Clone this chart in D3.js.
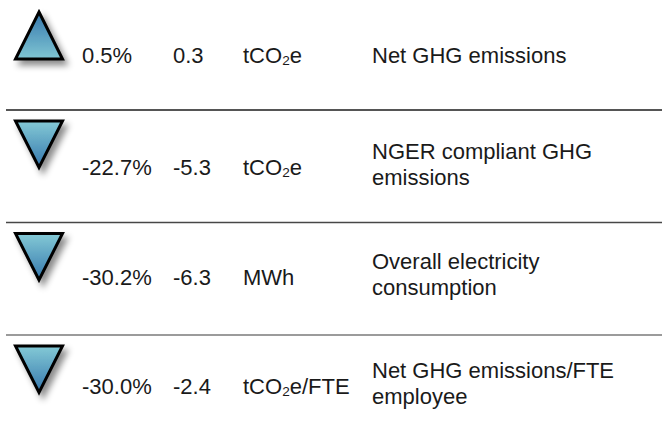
<!DOCTYPE html>
<html>
<head>
<meta charset="utf-8">
<script src="https://cdn.jsdelivr.net/npm/d3@7"></script>
<style>
  html, body { margin: 0; padding: 0; background: #fff; }
  text { font-family: "Liberation Sans", Arial, Helvetica, sans-serif; fill: #1a1a1a; }
</style>
</head>
<body>
<div id="chart"></div>
<script>
// indicator rows
const directions = ["up", "down", "down", "down"];
const pctChanges = ["0.5%", "-22.7%", "-30.2%", "-30.0%"];
const absChanges = ["0.3", "-5.3", "-6.3", "-2.4"];
const units = [["tCO", "2", "e"], ["tCO", "2", "e"], ["MWh", "", ""], ["tCO", "2", "e/FTE"]];
const labels = [
  ["Net GHG emissions"],
  ["NGER compliant GHG", "emissions"],
  ["Overall electricity", "consumption"],
  ["Net GHG emissions/FTE", "employee"]
];
const dividerColors = ["#1c1c1c", "#474747", "#7a7a7a"];

const W = 664, H = 441;
const svg = d3.select("#chart").append("svg")
  .attr("width", W).attr("height", H);

const defs = svg.append("defs");
// gradients for the arrows
const gUp = defs.append("linearGradient").attr("id", "gUp")
  .attr("x1", 0).attr("y1", 0).attr("x2", 0).attr("y2", 1);
gUp.append("stop").attr("offset", "0%").attr("stop-color", "#3577ad");
gUp.append("stop").attr("offset", "100%").attr("stop-color", "#80c6d3");
const gDown = defs.append("linearGradient").attr("id", "gDown")
  .attr("x1", 0).attr("y1", 0).attr("x2", 0).attr("y2", 1);
gDown.append("stop").attr("offset", "0%").attr("stop-color", "#84cad6");
gDown.append("stop").attr("offset", "100%").attr("stop-color", "#3577ad");

const shadow = defs.append("filter").attr("id", "shadow")
  .attr("x", "-30%").attr("y", "-30%").attr("width", "170%").attr("height", "170%");
shadow.append("feDropShadow")
  .attr("dx", 4).attr("dy", 5).attr("stdDeviation", 3)
  .attr("flood-color", "#000").attr("flood-opacity", 0.45);

// row bands
const y = d3.scaleBand()
  .domain(d3.range(directions.length))
  .range([-2.5, 447.5]);

// columns
const x = d3.scaleOrdinal()
  .domain(["arrow", "pct", "abs", "unit", "label"])
  .range([39, 82, 173, 243, 372]);

const rows = svg.selectAll("g.row")
  .data(directions.map((d, i) => ({ dir: d, i })))
  .join("g")
  .attr("class", "row")
  .attr("transform", d => `translate(0,${y(d.i)})`);

// arrows
const half = 23.5;
rows.append("path")
  .attr("d", d => {
    const cx = x("arrow");
    if (d.dir === "up") {
      const top = 14.5, bot = 61.5;
      return `M${cx},${top}L${cx + half},${bot}L${cx - half},${bot}Z`;
    }
    const top = 11, bot = 57.5;
    return `M${cx - half},${top}L${cx + half},${top}L${cx},${bot}Z`;
  })
  .attr("fill", d => d.dir === "up" ? "url(#gUp)" : "url(#gDown)")
  .attr("stroke", "#000")
  .attr("stroke-width", 3)
  .attr("stroke-linejoin", "miter")
  .attr("filter", "url(#shadow)");

const fs = 22;
const valueY = i => [65.5, 65, 62.5, 59][i];

rows.append("text")
  .attr("x", x("pct"))
  .attr("y", d => valueY(d.i))
  .attr("font-size", fs)
  .text(d => pctChanges[d.i]);

rows.append("text")
  .attr("x", x("abs"))
  .attr("y", d => valueY(d.i))
  .attr("font-size", fs)
  .text(d => absChanges[d.i]);

const unitText = rows.append("text")
  .attr("x", x("unit"))
  .attr("y", d => valueY(d.i))
  .attr("font-size", fs);
unitText.append("tspan").text(d => units[d.i][0]);
unitText.append("tspan")
  .attr("font-size", fs * 0.62)
  .attr("dy", 2)
  .text(d => units[d.i][1]);
unitText.append("tspan")
  .attr("dy", d => units[d.i][1] ? -2 : 0)
  .text(d => units[d.i][2]);

// labels, one or two lines
const lineH = 26;
rows.append("text")
  .attr("font-size", fs)
  .each(function (d) {
    const lines = labels[d.i];
    const first = lines.length === 1 ? valueY(d.i) : valueY(d.i) - 16.5;
    d3.select(this).selectAll("tspan")
      .data(lines)
      .join("tspan")
      .attr("x", x("label"))
      .attr("y", (l, k) => first + k * lineH)
      .text(l => l);
  });

// dividers
svg.selectAll("line.divider")
  .data(dividerColors)
  .join("line")
  .attr("class", "divider")
  .attr("x1", 6).attr("x2", 662)
  .attr("y1", (c, k) => y(k + 1))
  .attr("y2", (c, k) => y(k + 1))
  .attr("stroke", c => c)
  .attr("stroke-width", 1.6);
</script>
</body>
</html>
